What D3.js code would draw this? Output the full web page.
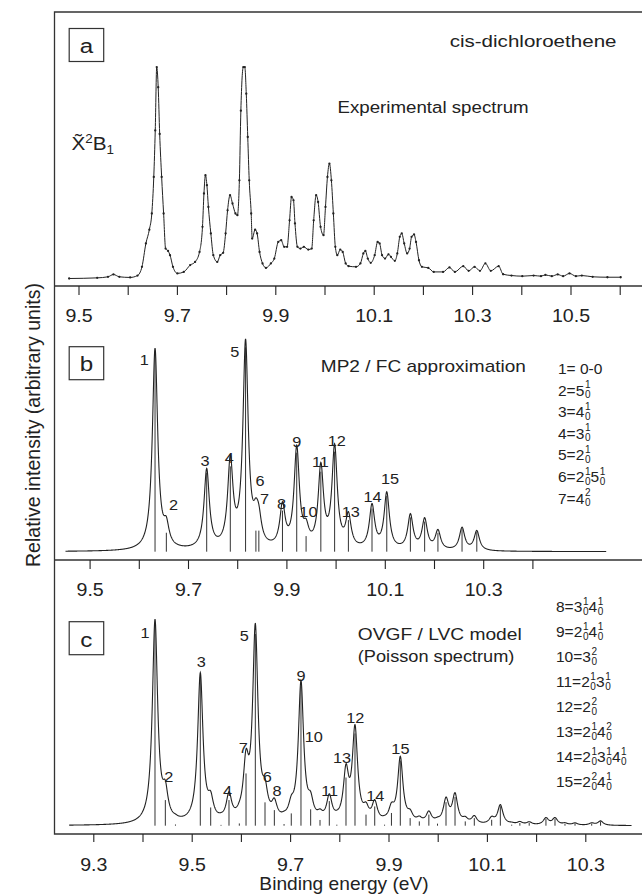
<!DOCTYPE html>
<html>
<head>
<meta charset="utf-8">
<script src="https://cdn.jsdelivr.net/npm/d3@7"></script>
<style>
  body { margin: 0; background: #fff; }
  svg { display: block; font-family: "Liberation Sans", Arial, sans-serif; }
  text { white-space: pre; fill: #222; }
</style>
</head>
<body>
<div id="chart"></div>
<script>
// panel a: experimental spectrum (binding energy eV, relative intensity)
const expEnergy = [9.481, 9.538, 9.560, 9.571, 9.583, 9.605, 9.620, 9.629, 9.637, 9.644,
  9.649, 9.653, 9.656, 9.659, 9.662, 9.665, 9.669, 9.673, 9.677, 9.682,
  9.686, 9.692, 9.701, 9.714, 9.727, 9.737, 9.746, 9.752, 9.755, 9.758,
  9.761, 9.764, 9.769, 9.774, 9.782, 9.788, 9.794, 9.799, 9.803, 9.808,
  9.813, 9.819, 9.823, 9.827, 9.830, 9.835, 9.838, 9.841, 9.844, 9.847,
  9.851, 9.853, 9.859, 9.863, 9.868, 9.874, 9.881, 9.891, 9.898, 9.906,
  9.912, 9.918, 9.924, 9.929, 9.933, 9.937, 9.940, 9.945, 9.951, 9.958,
  9.967, 9.974, 9.978, 9.983, 9.987, 9.992, 9.998, 10.002, 10.006, 10.010,
  10.014, 10.018, 10.022, 10.026, 10.032, 10.037, 10.043, 10.049, 10.064, 10.073,
  10.079, 10.083, 10.088, 10.094, 10.102, 10.108, 10.112, 10.117, 10.123, 10.130,
  10.135, 10.143, 10.148, 10.153, 10.157, 10.162, 10.168, 10.173, 10.177, 10.182,
  10.186, 10.192, 10.198, 10.211, 10.222, 10.241, 10.254, 10.265, 10.282, 10.293,
  10.305, 10.316, 10.327, 10.338, 10.354, 10.363, 10.380, 10.402, 10.425, 10.440,
  10.449, 10.462, 10.474, 10.485, 10.498, 10.511, 10.523, 10.545, 10.575, 10.602];
const expIntensity = [0.0, 0.003, 0.008, 0.019, 0.008, 0.005, 0.014, 0.055, 0.165, 0.23,
  0.306, 0.478, 0.697, 0.995, 0.90, 0.68, 0.478, 0.306, 0.141, 0.13,
  0.11, 0.055, 0.024, 0.031, 0.063, 0.078, 0.125, 0.243, 0.40, 0.486,
  0.439, 0.337, 0.212, 0.11, 0.078, 0.11, 0.121, 0.212, 0.321, 0.392,
  0.353, 0.306, 0.298, 0.462, 0.79, 0.995, 0.995, 0.87, 0.666, 0.462,
  0.306, 0.188, 0.23, 0.212, 0.125, 0.071, 0.05, 0.071, 0.094, 0.172,
  0.18, 0.149, 0.149, 0.274, 0.384, 0.368, 0.259, 0.149, 0.141, 0.149,
  0.136, 0.141, 0.274, 0.392, 0.36, 0.243, 0.204, 0.337, 0.478, 0.541,
  0.462, 0.306, 0.149, 0.11, 0.136, 0.125, 0.071, 0.058, 0.055, 0.071,
  0.118, 0.13, 0.094, 0.074, 0.11, 0.172, 0.165, 0.11, 0.094, 0.114,
  0.102, 0.083, 0.118, 0.196, 0.212, 0.165, 0.118, 0.141, 0.196, 0.207,
  0.172, 0.086, 0.055, 0.05, 0.031, 0.031, 0.052, 0.031, 0.058, 0.036,
  0.055, 0.036, 0.071, 0.036, 0.058, 0.02, 0.014, 0.011, 0.014, 0.011,
  0.017, 0.011, 0.019, 0.011, 0.024, 0.011, 0.014, 0.008, 0.006, 0.006];

// panel b: MP2 / FC stick spectrum
const mp2Energy = [9.633, 9.656, 9.738, 9.786, 9.817, 9.838, 9.844, 9.892, 9.921, 9.940,
  9.970, 9.998, 10.026, 10.074, 10.104, 10.152, 10.181, 10.208, 10.257, 10.287];
const mp2Intensity = [0.955, 0.09, 0.375, 0.405, 0.97, 0.10, 0.10, 0.195, 0.47, 0.074,
  0.38, 0.475, 0.15, 0.205, 0.265, 0.163, 0.143, 0.09, 0.107, 0.093];
const peakNames = ["1", "2", "3", "4", "5", "6", "7", "8", "9", "10", "11", "12", "13", "14", "15"];
const mp2LabelEnergy = [9.611, 9.6705, 9.7346, 9.7837, 9.7951, 9.8463, 9.8555, 9.890, 9.921, 9.9447,
  9.969, 10.0022, 10.031, 10.0752, 10.1106];
const mp2LabelIntensity = [0.884, 0.2, 0.407, 0.42, 0.926, 0.314, 0.226, 0.204, 0.499, 0.166,
  0.402, 0.503, 0.166, 0.234, 0.321];

// panel c: OVGF / LVC stick spectrum
const ovgfEnergy = [9.4254, 9.4464, 9.467, 9.5175, 9.5386, 9.5596, 9.5758, 9.5968, 9.6104, 9.6293,
  9.649, 9.668, 9.6877, 9.7024, 9.7221, 9.7418, 9.7608, 9.7797, 9.795, 9.8136,
  9.8319, 9.8543, 9.872, 9.892, 9.906, 9.924, 9.944, 9.9626, 9.982, 9.9996,
  10.0169, 10.0352, 10.056, 10.0744, 10.1097, 10.1273, 10.1504, 10.167, 10.186, 10.22,
  10.2384, 10.2587, 10.2791, 10.313, 10.331];
const ovgfIntensity = [0.99, 0.125, 0.006, 0.725, 0.089, 0.004, 0.125, 0.011, 0.255, 0.935,
  0.114, 0.076, 0.008, 0.06, 0.68, 0.08, 0.028, 0.12, 0.005, 0.235,
  0.45, 0.054, 0.094, 0.005, 0.062, 0.318, 0.037, 0.021, 0.054, 0.01,
  0.115, 0.14, 0.021, 0.037, 0.029, 0.095, 0.005, 0.013, 0.013, 0.033,
  0.033, 0.008, 0.01, 0.01, 0.021];
const ovgfLabelEnergy = [9.4053, 9.4535, 9.5193, 9.5728, 9.6067, 9.6537, 9.6047, 9.6734, 9.7224, 9.748,
  9.7803, 9.8323, 9.8055, 9.873, 9.9242];
const ovgfLabelIntensity = [0.918, 0.214, 0.776, 0.147, 0.901, 0.214, 0.356, 0.143, 0.706, 0.407,
  0.147, 0.502, 0.304, 0.122, 0.349];

// vibrational assignments, {up,down} = stacked super/subscript
const legendB = ["1= 0-0", "2=5{1,0}", "3=4{1,0}", "4=3{1,0}", "5=2{1,0}", "6=2{1,0}5{1,0}", "7=4{2,0}"];
const legendC = ["8=3{1,0}4{1,0}", "9=2{1,0}4{1,0}", "10=3{2,0}", "11=2{1,0}3{1,0}", "12=2{2,0}",
  "13=2{1,0}4{2,0}", "14=2{1,0}3{1,0}4{1,0}", "15=2{2,0}4{1,0}"];

// axis ticks
const ticksA = [9.5, 9.6, 9.7, 9.8, 9.9, 10.0, 10.1, 10.2, 10.3, 10.4, 10.5, 10.6];
const labelsA = [9.5, 9.7, 9.9, 10.1, 10.3, 10.5];
const ticksB = [9.5, 9.6, 9.7, 9.8, 9.9, 10.0, 10.1, 10.2, 10.3, 10.4];
const labelsB = [9.5, 9.7, 9.9, 10.1, 10.3];
const ticksC = [9.3, 9.4, 9.5, 9.6, 9.7, 9.8, 9.9, 10.0, 10.1, 10.2, 10.3];
const labelsC = [9.3, 9.5, 9.7, 9.9, 10.1, 10.3];

const W = 642, H = 896;
const ink = "#222";
const gamma = 0.0065; // lorentzian half width for the simulated envelopes

const svg = d3.select("#chart").append("svg")
  .attr("width", W).attr("height", H);

// scales
const xA = d3.scaleLinear().domain([9.5, 10.6]).range([78.5, 619.7]);
const yA = d3.scaleLinear().domain([0, 1]).range([278.5, 66]);
const xB = d3.scaleLinear().domain([9.5, 10.4]).range([89.6, 532.4]);
const yB = d3.scaleLinear().domain([0, 1]).range([551.7, 341]);
const xC = d3.scaleLinear().domain([9.3, 10.3]).range([93.3, 585.3]);
const yC = d3.scaleLinear().domain([0, 1]).range([825.7, 620.7]);

// frame
const left = 54.5;
svg.append("path")
  .attr("d", `M${W},12H${left}V834H${W}M${left},286H${W}M${left},560H${W}`)
  .attr("fill", "none").attr("stroke", "#333").attr("stroke-width", 1.3);

// plain text, optionally stretched sideways like the original lettering
const label = (x, y, str, size, anchor = "start", sx = 1) =>
  svg.append("text")
    .attr("transform", `translate(${x},${y}) scale(${sx},1)`)
    .attr("text-anchor", anchor)
    .attr("font-size", size)
    .text(str);

const drawAxis = (x, y0, ticks, labels, size, pad) => {
  const ax = d3.axisBottom(x).tickValues(ticks).tickSize(size).tickPadding(pad).tickSizeOuter(0)
    .tickFormat(d => labels.some(l => Math.abs(l - d) < 1e-6) ? d3.format(".1f")(d) : "");
  const g = svg.append("g").attr("transform", `translate(0,${y0})`).call(ax);
  g.select(".domain").remove();
  g.attr("font-family", null).attr("font-size", 17.5);
  g.selectAll("line").attr("stroke", ink).attr("stroke-width", 1.1);
  g.selectAll("text").attr("fill", ink).attr("transform", "scale(1.12,1)");
};
drawAxis(xA, 286, ticksA, labelsA, 9, 15);
drawAxis(xB, 560, ticksB, labelsB, 9, 15);
drawAxis(xC, 834, ticksC, labelsC, 8, 17);

// panel a
const expData = expEnergy.map((e, i) => [e, expIntensity[i]]);
svg.append("path")
  .datum(expData)
  .attr("d", d3.line().x(d => xA(d[0])).y(d => yA(d[1])).curve(d3.curveMonotoneX))
  .attr("fill", "none").attr("stroke", ink).attr("stroke-width", 1);
svg.append("g").selectAll("circle")
  .data(expData)
  .enter()
  .append("circle")
  .attr("cx", d => xA(d[0]))
  .attr("cy", d => yA(d[1]))
  .attr("r", 1.15)
  .attr("fill", ink);

// broadened envelope of a stick spectrum
const envelope = (es, is, lo, hi) =>
  d3.range(lo, hi, 0.0005).map(e => [e, d3.sum(es, (ei, k) => is[k] / (1 + ((e - ei) / gamma) ** 2))]);

const drawSim = (x, y, es, is, lo, hi, labE, labI) => {
  svg.append("g").selectAll("line")
    .data(es)
    .enter()
    .append("line")
    .attr("x1", d => x(d)).attr("x2", d => x(d))
    .attr("y1", y(0)).attr("y2", (d, i) => y(is[i]))
    .attr("stroke", "#333").attr("stroke-width", 1);
  svg.append("path")
    .datum(envelope(es, is, lo, hi))
    .attr("d", d3.line().x(d => x(d[0])).y(d => y(d[1])))
    .attr("fill", "none").attr("stroke", ink).attr("stroke-width", 1.1);
  peakNames.forEach((d, i) => label(x(labE[i]), y(labI[i]), d, 15.5, "middle", 1.05));
};
drawSim(xB, yB, mp2Energy, mp2Intensity, 9.451, 10.55, mp2LabelEnergy, mp2LabelIntensity);
drawSim(xC, yC, ovgfEnergy, ovgfIntensity, 9.251, 10.394, ovgfLabelEnergy, ovgfLabelIntensity);

// panel letters
const letterBox = (x0, y0, letter, base) => {
  svg.append("rect").attr("x", x0).attr("y", y0).attr("width", 34.5).attr("height", 33)
    .attr("fill", "none").attr("stroke", "#333").attr("stroke-width", 1.2);
  label(x0 + 17.2, base, letter, 21, "middle", 1.15);
};
letterBox(69.2, 28.5, "a", 53);
letterBox(69.2, 346.7, "b", 370.7);
letterBox(69.2, 621.7, "c", 646.7);

// annotations
label(616.5, 46.5, "cis-dichloroethene", 17, "end", 1.21);
label(337.5, 113, "Experimental spectrum", 17, "start", 1.1);
label(320.8, 371.5, "MP2 / FC approximation", 17, "start", 1.12);
label(357.8, 639.5, "OVGF / LVC model", 17, "start", 1.13);
label(357.8, 661.5, "(Poisson spectrum)", 17, "start", 1.07);

const state = label(71.5, 150, "", 18.5, "start", 1.12);
state.append("tspan").text("X\u0303");
state.append("tspan").attr("font-size", 12).attr("dy", -7).text("2");
state.append("tspan").attr("dy", 7).text("B");
state.append("tspan").attr("font-size", 12).attr("dy", 4).text("1");

// assignment legends with stacked indices, one text per line
const richText = (x, y, spec, size) => {
  const t = label(x, y, "", size);
  const small = 10;
  let off = 0;
  const re = /\{(\d),(\d)\}|[^{}]+/g;
  let m;
  while ((m = re.exec(spec))) {
    if (m[1] !== undefined) {
      t.append("tspan").attr("font-size", small).attr("dx", 0.6).attr("dy", -7.4 - off).text(m[1]);
      t.append("tspan").attr("font-size", small).attr("dx", -small * 0.556).attr("dy", 9.9).text(m[2]);
      off = 2.5;
    } else {
      t.append("tspan").attr("dy", -off).text(m[0]);
      off = 0;
    }
  }
};
legendB.forEach((s, i) => richText(558, 374 + i * 21.6, s, 15.5));
legendC.forEach((s, i) => richText(556, 612 + i * 25, s, 15.5));

// axis titles
label(344, 890, "Binding energy (eV)", 18.6, "middle", 1.03);
svg.append("text").attr("transform", "translate(40,425) rotate(-90)").attr("text-anchor", "middle")
  .attr("font-size", 19.5).text("Relative intensity (arbitrary units)");
</script>
</body>
</html>
